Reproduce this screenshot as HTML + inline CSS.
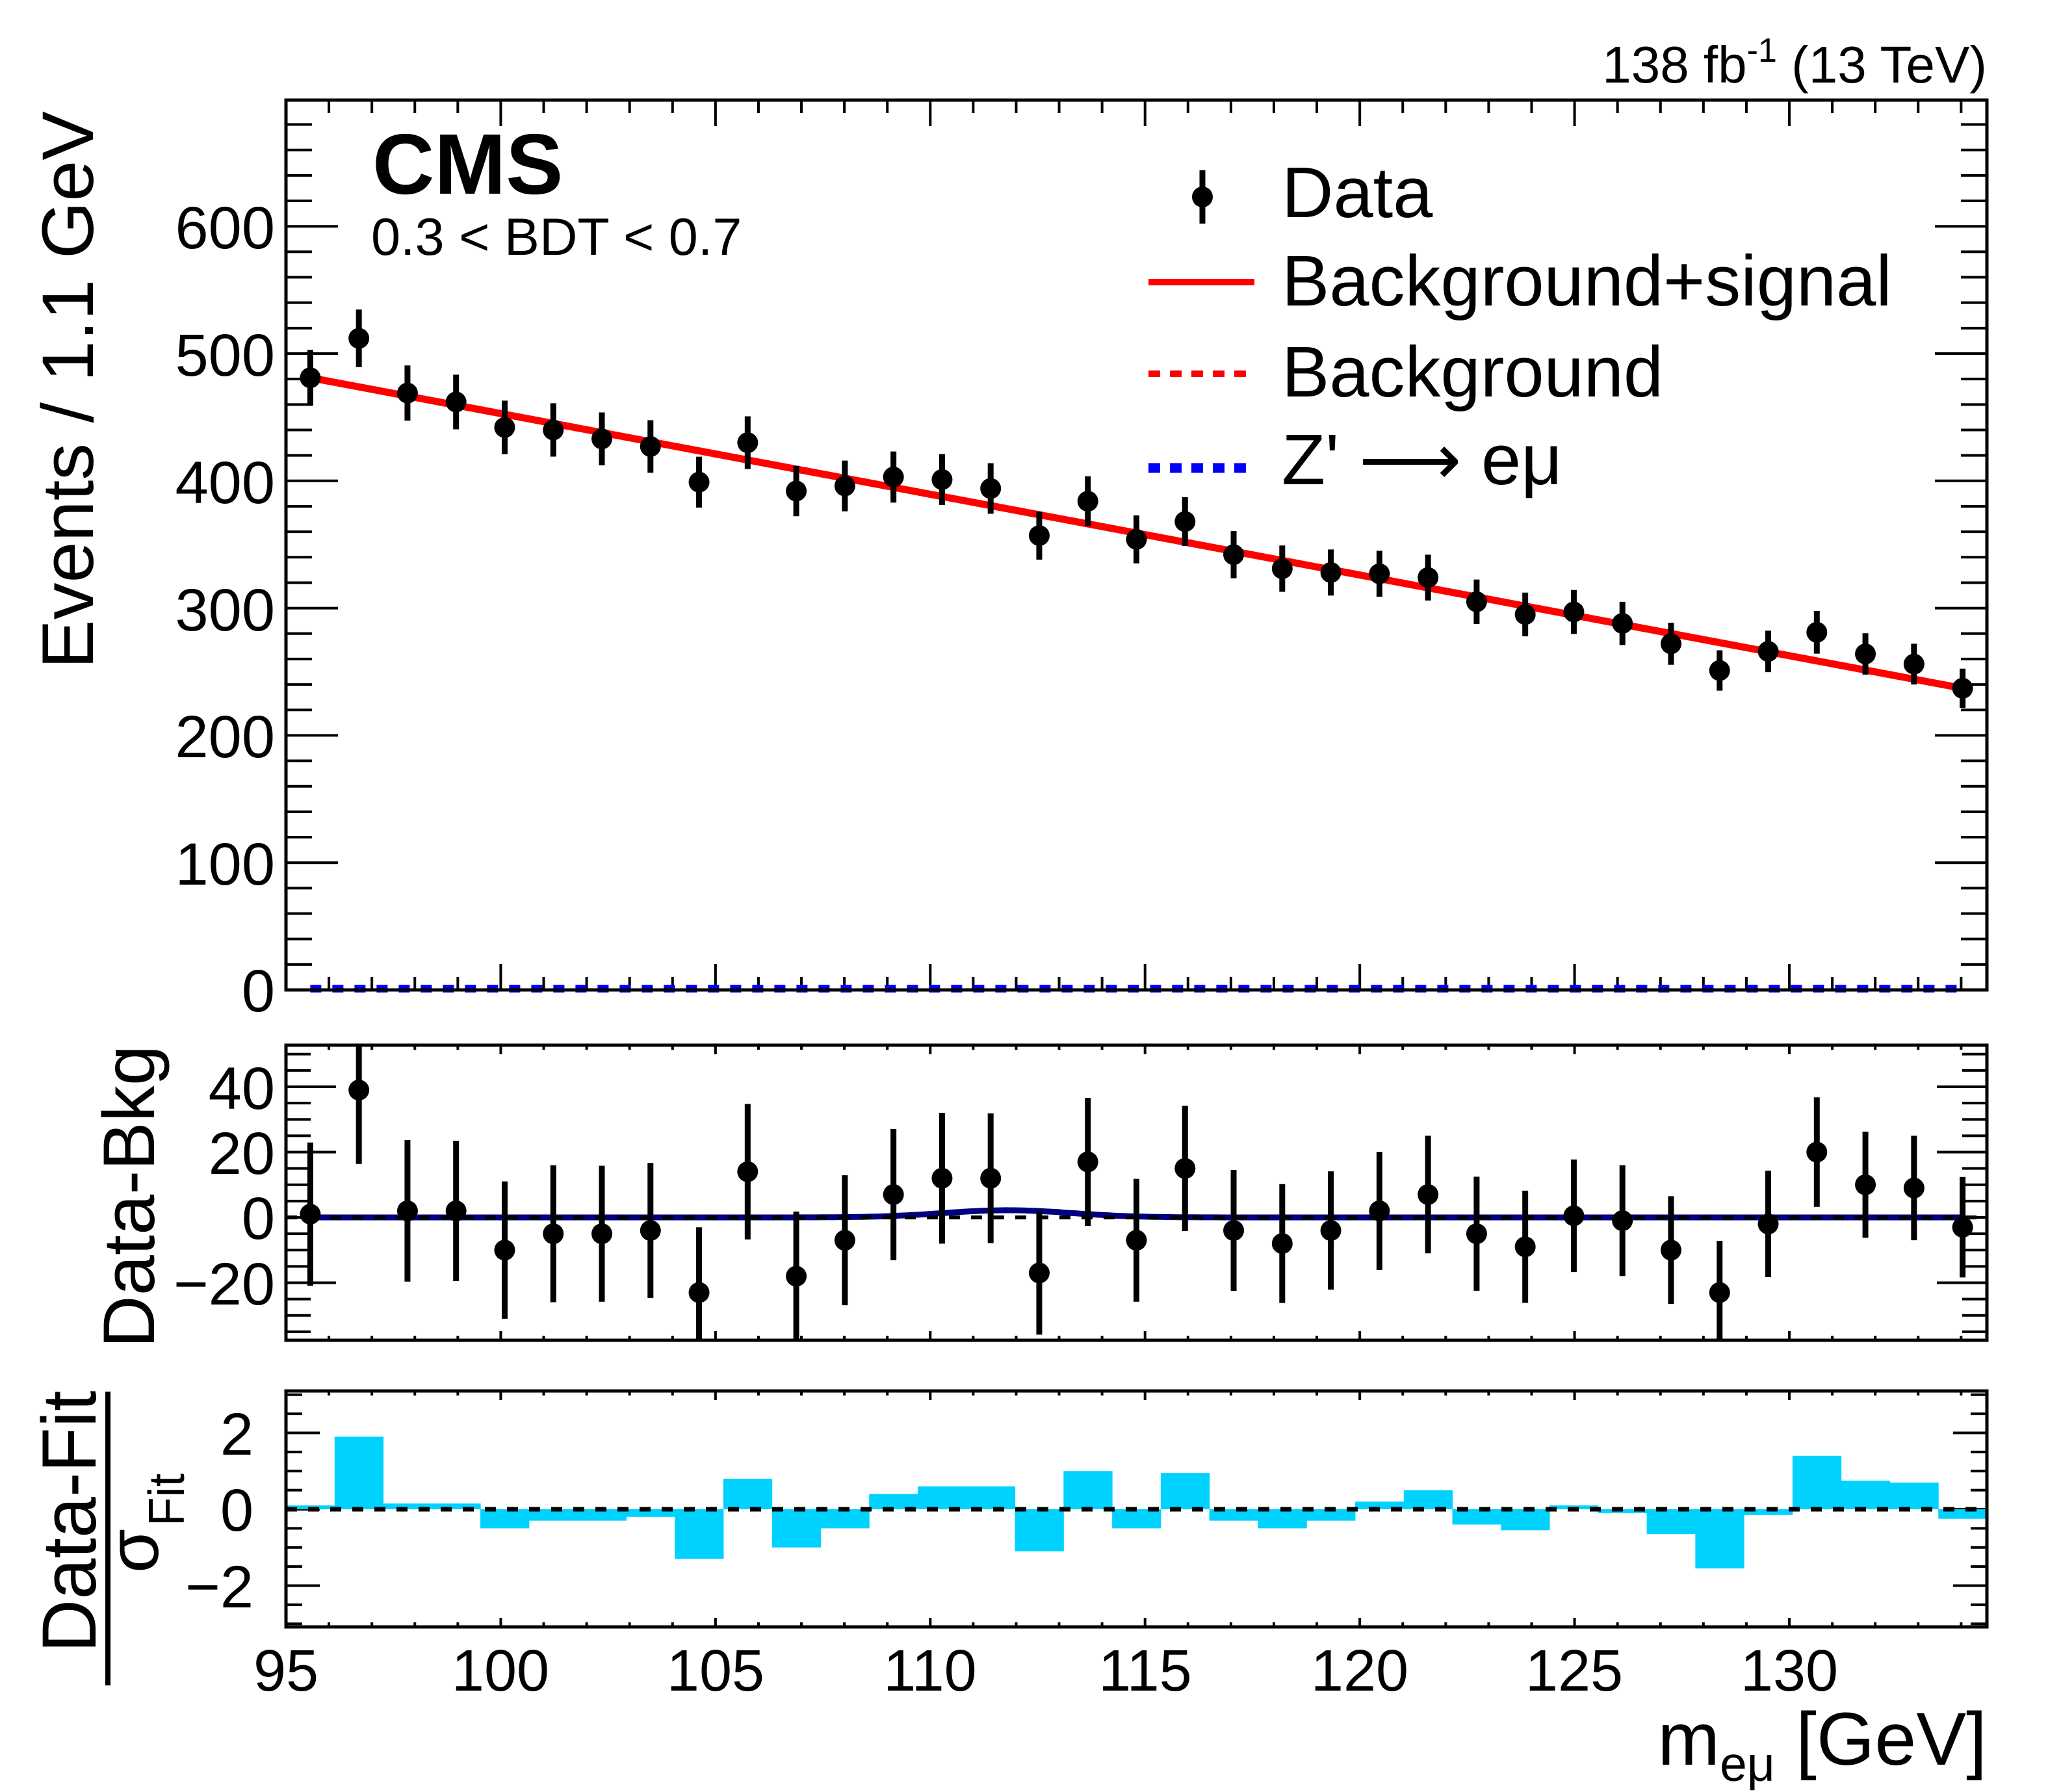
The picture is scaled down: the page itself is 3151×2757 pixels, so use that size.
<!DOCTYPE html>
<html><head><meta charset="utf-8"><style>
html,body{margin:0;padding:0;background:#fff}
svg{display:block}
text{font-family:"Liberation Sans",Arial,sans-serif;fill:#000}
</style></head><body>
<svg id="s" xmlns="http://www.w3.org/2000/svg" width="3151" height="2757" viewBox="0 0 3151 2757">
<defs>
<clipPath id="cm"><rect x="440" y="1608" width="2617" height="454"/></clipPath>
<clipPath id="cb"><rect x="440" y="2140" width="2617" height="363"/></clipPath>
</defs>
<g id="g"></g>
<rect x="440" y="154" width="2617" height="1369" fill="none" stroke="#000" stroke-width="5"/>
<rect x="440" y="1608" width="2617" height="454" fill="none" stroke="#000" stroke-width="5"/>
<rect x="440" y="2140" width="2617" height="363" fill="none" stroke="#000" stroke-width="5"/>

<text x="3057" y="127" font-size="80" text-anchor="end">138 fb<tspan dy="-32" font-size="52">-1</tspan><tspan dy="32"> (13 TeV)</tspan></text>
<text x="573" y="298" font-size="132" font-weight="bold">CMS</text>
<text x="571" y="392" font-size="81">0.3 &lt; BDT &lt; 0.7</text>

<g font-size="92" text-anchor="end">
<text x="423" y="382">600</text>
<text x="423" y="578">500</text>
<text x="423" y="774">400</text>
<text x="423" y="970">300</text>
<text x="423" y="1165">200</text>
<text x="423" y="1361">100</text>
<text x="423" y="1556">0</text>
<text x="423" y="1706">40</text>
<text x="423" y="1806">20</text>
<text x="423" y="1906">0</text>
<text x="423" y="2007">−20</text>
<text x="390" y="2238">2</text>
<text x="390" y="2355">0</text>
<text x="390" y="2473">−2</text>
</g>
<g font-size="90" text-anchor="middle">
<text x="440" y="2601">95</text>
<text x="770" y="2601">100</text>
<text x="1101" y="2601">105</text>
<text x="1431" y="2601">110</text>
<text x="1762" y="2601">115</text>
<text x="2092" y="2601">120</text>
<text x="2422" y="2601">125</text>
<text x="2753" y="2601">130</text>
</g>
<text x="3057" y="2715" font-size="115" text-anchor="end">m<tspan font-size="75" dy="25">eμ</tspan><tspan dy="-25"> [GeV]</tspan></text>

<text transform="translate(143,600) rotate(-90)" font-size="112" text-anchor="middle" textLength="858" lengthAdjust="spacingAndGlyphs">Events / 1.1 GeV</text>
<text transform="translate(237,1841) rotate(-90)" font-size="112" text-anchor="middle" textLength="466" lengthAdjust="spacingAndGlyphs">Data-Bkg</text>
<text transform="translate(147,2341) rotate(-90)" font-size="118" text-anchor="middle" textLength="403" lengthAdjust="spacingAndGlyphs">Data-Fit</text>
<rect x="162" y="2141" width="8" height="452" fill="#000"/>
<text transform="translate(243,2420) rotate(-90)" font-size="110">σ</text>
<text transform="translate(283,2348) rotate(-90)" font-size="78" textLength="81" lengthAdjust="spacingAndGlyphs">Fit</text>

<line x1="1850" y1="262" x2="1850" y2="344" stroke="#000" stroke-width="9"/>
<circle cx="1850" cy="303" r="16" fill="#000"/>
<text x="1972" y="334" font-size="110">Data</text>
<line x1="1767" y1="434" x2="1930" y2="434" stroke="#f00" stroke-width="10"/>
<text x="1972" y="470" font-size="110">Background+signal</text>
<line x1="1767" y1="575" x2="1930" y2="575" stroke="#f00" stroke-width="10" stroke-dasharray="18 15"/>
<text x="1972" y="610" font-size="110">Background</text>
<line x1="1767" y1="720" x2="1930" y2="720" stroke="#00f" stroke-width="15" stroke-dasharray="18 15"/>
<text x="1972" y="745" font-size="110">Z' <tspan style="font-family:'DejaVu Sans','Liberation Sans',sans-serif">⟶</tspan> eμ</text>
</svg>
<script>
(function(){
var NS="http://www.w3.org/2000/svg",g=document.getElementById("g");
function el(t,a,p){var e=document.createElementNS(NS,t);for(var k in a)e.setAttribute(k,a[k]);(p||g).appendChild(e);return e;}
var L=440,R=3057,BW=(R-L)/35;
function X(m){return L+(m-95)*(R-L)/39.6;}
function yT(v){return 1523-v*1.958;}
function yM(v){return 1873-v*5.025;}
function yB(v){return 2322-v*58.75;}
var top=[481,512,469,462,442,440,433,427,399,430,392,396,403,401,394,357,384,354,368,342,331,328,327,324,305,295,297,288,272,251,266,281,264,256,237];
var mid=[1,39,2,2,-10,-5,-5,-4,-23,14,-18,-7,7,12,12,-17,17,-7,15,-4,-8,-4,2,7,-5,-9,0.5,-1,-10,-23,-2,20,10,9,-3];
var pul=[0.1,1.9,0.15,0.15,-0.5,-0.3,-0.3,-0.2,-1.3,0.8,-1.0,-0.5,0.4,0.6,0.6,-1.1,1.0,-0.5,0.95,-0.3,-0.5,-0.3,0.2,0.5,-0.4,-0.55,0.1,-0.1,-0.65,-1.55,-0.15,1.4,0.75,0.7,-0.25];
function cx(i){return L+(i+0.5)*BW;}
function tk(x1,y1,x2,y2){el("line",{x1:x1,y1:y1,x2:x2,y2:y2,stroke:"#000","stroke-width":4});}
var panels=[[154,1523,40,20],[1608,2062,14,7],[2140,2503,14,7]];
panels.forEach(function(p){
 for(var m=96;m<=134;m++){var x=X(m),len=(m%5==0)?p[2]:p[3];tk(x,p[1],x,p[1]-len);tk(x,p[0],x,p[0]+len);}
});
for(var v=0;v<=680;v+=20){var y=yT(v),len=(v%100==0)?80:40;tk(L,y,L+len,y);tk(R,y,R-len,y);}
for(var v=-35;v<=50;v+=5){var y=yM(v),len=(v%20==0)?77:38;tk(L,y,L+len,y);tk(R,y,R-len,y);}
for(var v=-3;v<=3;v+=0.5){var y=yB(v),len=(Math.abs(v%2)<1e-9)?52:25;tk(L,y,L+len,y);tk(R,y,R-len,y);}
el("line",{x1:cx(0),y1:1521,x2:cx(34),y2:1521,stroke:"#00f","stroke-width":12,"stroke-dasharray":"17 17"});
el("line",{x1:cx(0),y1:yT(481),x2:cx(34),y2:yT(237),stroke:"#f00","stroke-width":11});
for(var i=0;i<35;i++){var x=cx(i),y=yT(top[i]),e=Math.sqrt(top[i])*1.958;
 el("line",{x1:x,y1:y-e,x2:x,y2:y+e,stroke:"#000","stroke-width":9});
 el("circle",{cx:x,cy:y,r:16,fill:"#000"});}
var gm=el("g",{"clip-path":"url(#cm)"});
var d="";for(var m=95.57;m<=134.05;m+=0.1){var s=2.2*Math.exp(-Math.pow(m-111.8,2)/(2*1.5*1.5));d+=(d?"L":"M")+X(m).toFixed(1)+","+yM(s).toFixed(1);}
el("path",{d:d,fill:"none",stroke:"#000080","stroke-width":9},gm);
el("line",{x1:L,y1:yM(0),x2:R,y2:yM(0),stroke:"#000","stroke-width":6,"stroke-dasharray":"17 17"},gm);
for(var i=0;i<35;i++){var x=cx(i),y=yM(mid[i]),e=Math.sqrt(top[i])*5.025;
 el("line",{x1:x,y1:y-e,x2:x,y2:y+e,stroke:"#000","stroke-width":9},gm);
 el("circle",{cx:x,cy:y,r:16,fill:"#000"},gm);}
var gb=el("g",{"clip-path":"url(#cb)"});
for(var i=0;i<35;i++){var v=pul[i],y0=yB(0),y1=yB(v);
 el("rect",{x:L+i*BW,y:Math.min(y0,y1),width:BW+0.5,height:Math.max(Math.abs(y1-y0),3),fill:"#00d2ff"},gb);}
el("line",{x1:L,y1:yB(0),x2:R,y2:yB(0),stroke:"#000","stroke-width":7,"stroke-dasharray":"17 17"},gb);
})();
</script>
</body></html>
